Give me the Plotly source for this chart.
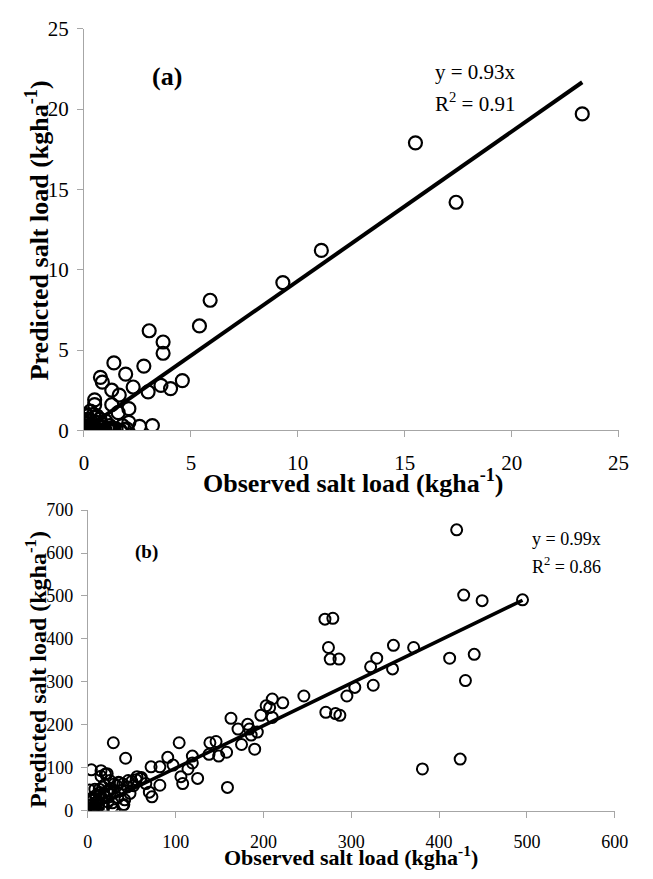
'''
    Observed vs predicted salt load, two stacked scatter panels with
    fitted lines through the origin.
'''
import plotly.graph_objects as go

# Panel (a) data
obs_a = [23.3, 15.5, 17.4, 11.1, 9.3, 5.9, 5.4, 3.05, 3.7, 3.7, 1.4, 2.8,
         1.95, 0.77, 0.86, 4.6, 2.3, 3.6, 4.05, 3.0, 1.3, 1.65, 0.5, 0.5,
         1.3, 2.1, 1.6, 2.1, 2.6, 3.2, 2.0,
         0.0, 0.05, 0.1, 0.15, 0.2, 0.25, 0.3, 0.4, 0.5, 0.6, 0.7, 0.8, 0.9,
         1.0, 1.1, 1.2, 1.4, 1.5, 1.7, 1.9, 0.0, 0.1, 0.2, 0.3, 0.4, 0.5,
         0.6, 0.8, 1.0, 1.2, 0.05, 0.15, 0.3, 0.45, 0.6, 0.75, 0.35, 0.9,
         1.3, 1.8, 0.0, 0.2]
pred_a = [19.7, 17.9, 14.2, 11.2, 9.2, 8.1, 6.5, 6.2, 5.5, 4.8, 4.2, 4.0,
          3.5, 3.3, 3.0, 3.1, 2.7, 2.8, 2.6, 2.4, 2.5, 2.2, 1.9, 1.6,
          1.6, 1.35, 1.1, 0.5, 0.25, 0.3, 0.1,
          0.0, 0.1, 0.05, 0.2, 0.0, 0.3, 0.1, 0.0, 0.15, 0.05, 0.0, 0.2, 0.05,
          0.0, 0.1, 0.05, 0.0, 0.1, 0.0, 0.05, 0.5, 0.4, 0.7, 0.6, 0.3, 0.8,
          0.5, 0.4, 0.6, 0.3, 1.0, 0.9, 1.2, 1.0, 0.9, 0.7, 0.25, 0.2,
          0.15, 0.3, 0.3, 0.0]
slope_a = 0.93
r2_a = 0.91

# Panel (b) data
obs_b = [420, 428, 449, 495, 270, 279, 274, 276, 286, 348, 371, 329, 412,
         440, 322, 347, 430, 381, 424, 325, 304, 295, 271, 282, 287, 246,
         222, 210, 203, 207, 210, 197, 193, 182, 184, 186, 171, 175, 190,
         163, 158, 159, 139, 146, 138, 149, 119, 119, 114, 104, 91, 97, 106,
         108, 125, 82, 72, 82, 70, 73, 29, 43, 4, 15, 22, 56, 61, 46, 2, 8,
         28, 41, 42, 30, 66,
         2, 4, 6, 8, 10, 3, 5, 7, 9, 12, 1, 3, 5, 11, 14, 16, 18, 20, 22, 25,
         13, 17, 19, 24, 27, 30, 33, 36, 38, 40, 45, 50, 55, 60, 15, 20, 25,
         30, 35, 12, 18, 23, 28, 34, 40, 48, 52, 9, 14, 6, 3, 5, 8, 1, 10]
pred_b = [654, 502, 489, 491, 446, 448, 380, 353, 353, 385, 380, 355, 355,
          364, 335, 330, 303, 97, 120, 292, 287, 267, 229, 226, 222, 267,
          251, 260, 244, 240, 217, 222, 183, 201, 190, 176, 190, 154, 143,
          215, 136, 54, 158, 161, 131, 127, 127, 111, 97, 158, 124, 106, 79,
          63, 75, 102, 102, 59, 43, 32, 158, 122, 95, 93, 86, 79, 77, 70, 48,
          50, 18, 14, 25, 2, 63,
          2, 5, 3, 8, 4, 12, 15, 10, 18, 6, 20, 25, 30, 22, 35, 28, 40, 32,
          45, 38, 50, 55, 60, 48, 52, 42, 58, 65, 47, 62, 55, 68, 72, 75, 80,
          85, 70, 62, 66, 14, 10, 20, 8, 30, 12, 40, 58, 35, 42, 26, 0, 1, 0,
          3, 2]
slope_b = 0.99
r2_b = 0.86

FONT = "Liberation Serif, Times New Roman, serif"
AXIS_GREY = "#a6a6a6"

# page body keeps its default 8px margin, so the figure is shrunk by that
OFF = 8
W = 653 - OFF
H = 879 - OFF


def px_x(px):
    return (px - OFF) / W


def px_y(py):
    return 1 - (py - OFF) / H


fig = go.Figure()

# scatter points
fig.add_trace(go.Scatter(
    x=obs_a, y=pred_a, mode="markers", xaxis="x", yaxis="y",
    marker=dict(symbol="circle-open", size=13, color="black",
                line=dict(width=2.2, color="black")),
))
fig.add_trace(go.Scatter(
    x=obs_b, y=pred_b, mode="markers", xaxis="x2", yaxis="y2",
    marker=dict(symbol="circle-open", size=11, color="black",
                line=dict(width=2, color="black")),
))

# fitted lines through the origin
xa = [0, max(obs_a)]
fig.add_trace(go.Scatter(
    x=xa, y=[slope_a * v for v in xa], mode="lines", xaxis="x", yaxis="y",
    line=dict(color="black", width=4),
))
xb = [0, max(obs_b)]
fig.add_trace(go.Scatter(
    x=xb, y=[slope_b * v for v in xb], mode="lines", xaxis="x2", yaxis="y2",
    line=dict(color="black", width=3.5),
))

axis_common = dict(
    showgrid=False, zeroline=False, showline=True, linecolor=AXIS_GREY,
    linewidth=1, ticks="outside", ticklen=6, tickcolor=AXIS_GREY,
)

fig.update_layout(
    width=W, height=H,
    margin=dict(l=0, r=0, t=0, b=0),
    plot_bgcolor="white", paper_bgcolor="white",
    showlegend=False,
    font=dict(family=FONT, color="black"),
    xaxis=dict(domain=[px_x(81), px_x(631)], range=[0, 25], dtick=5,
               anchor="y", tickfont=dict(size=21), ticklabelstandoff=7,
               **axis_common),
    yaxis=dict(domain=[px_y(430), px_y(17)], range=[0, 25],
               dtick=5, anchor="x", tickfont=dict(size=21),
               ticklabelstandoff=4, **axis_common),
    xaxis2=dict(domain=[px_x(85), px_x(627)], range=[0, 600], dtick=100,
                anchor="y2", tickfont=dict(size=18), ticklabelstandoff=9,
                **axis_common),
    yaxis2=dict(domain=[px_y(821), px_y(512)], range=[0, 700],
                dtick=100, anchor="x2", tickfont=dict(size=18),
                ticklabelstandoff=4, **axis_common),
)

# axis titles
titles = [
    dict(x=358, y=483, text="Observed salt load (kgha<sup>-1</sup>)",
         size=26, angle=0),
    dict(x=33, y=224, text="Predicted salt load (kgha<sup>-1</sup>)",
         size=26, angle=-90),
    dict(x=356, y=868, text="Observed salt load (kgha<sup>-1</sup>)",
         size=22, angle=0),
    dict(x=31, y=676, text="Predicted salt load (kgha<sup>-1</sup>)",
         size=24, angle=-90),
]
for t in titles:
    fig.add_annotation(
        xref="paper", yref="paper", x=px_x(t["x"]), y=px_y(t["y"]),
        text="<b>" + t["text"] + "</b>",
        showarrow=False, textangle=t["angle"], xanchor="center", yanchor="middle",
        font=dict(family=FONT, size=t["size"], color="black"),
    )

# panel labels and equations
fig.add_annotation(xref="x", yref="y", x=3.86, y=22.0, text="<b>(a)</b>",
                   showarrow=False, font=dict(family=FONT, size=26))
fig.add_annotation(xref="x", yref="y", x=16.3, y=22.3, text=f"y = {slope_a}x",
                   showarrow=False, xanchor="left", font=dict(family=FONT, size=21))
fig.add_annotation(xref="x", yref="y", x=16.3, y=20.4,
                   text=f"R<sup>2</sup> = {r2_a}",
                   showarrow=False, xanchor="left", font=dict(family=FONT, size=21))

fig.add_annotation(xref="x2", yref="y2", x=67, y=602, text="<b>(b)</b>",
                   showarrow=False, font=dict(family=FONT, size=19))
fig.add_annotation(xref="x2", yref="y2", x=503, y=633, text=f"y = {slope_b}x",
                   showarrow=False, xanchor="left", font=dict(family=FONT, size=18))
fig.add_annotation(xref="x2", yref="y2", x=503, y=572,
                   text=f"R<sup>2</sup> = {r2_b}",
                   showarrow=False, xanchor="left", font=dict(family=FONT, size=18))

fig.write_html("out.html")
